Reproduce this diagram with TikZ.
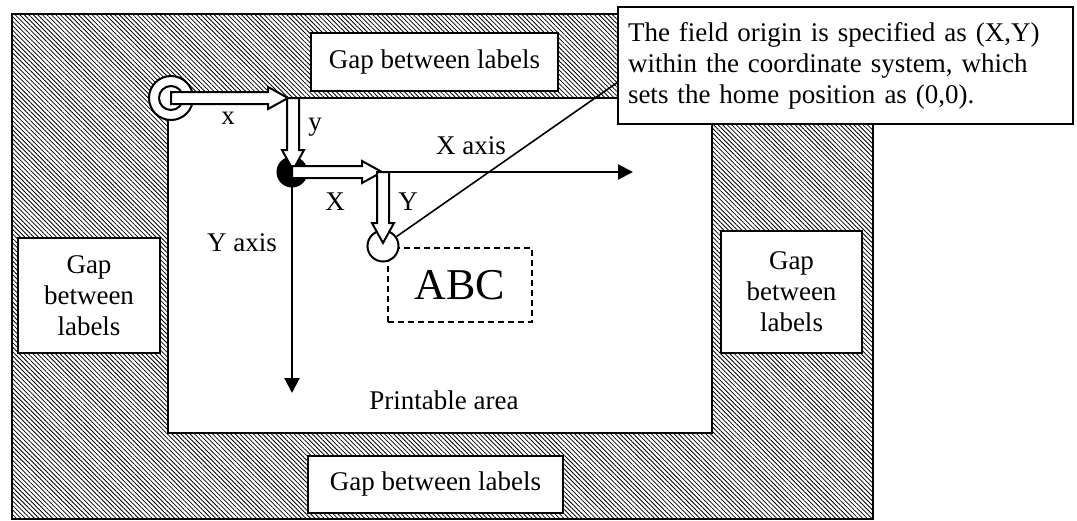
\documentclass[tikz,border=0pt]{standalone}
\usepackage{fontspec}
\setmainfont{Liberation Serif}
\usetikzlibrary{arrows.meta,patterns.meta}

\tikzset{
  gapbox/.style={draw, fill=white, line width=1pt, align=center, inner sep=0pt},
  axisline/.style={line width=1pt, -{Triangle[width=7.5pt,length=7.5pt]}},
  pics/hollowarrow/.style={code={
    \draw[fill=white, line width=1pt] (0,-6) -- ({#1-20},-6) -- ({#1-20},-11) -- (#1,0)
      -- ({#1-20},11) -- ({#1-20},6) -- (0,6) -- cycle;}},
}

\begin{document}
\begin{tikzpicture}[x=0.5pt, y=-0.5pt, font=\fontsize{13.5}{15.5}\selectfont]
  \useasboundingbox (0,0) rectangle (1077,520);

  % Hatched margin
  \draw[line width=1pt, pattern={Lines[angle=-45,distance=1.6pt,line width=0.4pt]}] (12,14) rectangle (873,519);

  % Printable area
  \draw[line width=1pt, fill=white] (168,98) rectangle (712,433);
  \node (printable) at (444,400) {Printable area};

  % Gaps between labels
  \node[gapbox, minimum width=123.5pt, minimum height=29pt] (gaptop) at (434.5,62) {Gap between labels};
  \node[gapbox, minimum width=127.5pt, minimum height=28.5pt] (gapbottom) at (435.5,484.5) {Gap between labels};
  \node[gapbox, minimum width=71pt, minimum height=57.5pt] (gapleft) at (89,295.5) {Gap\\between\\labels};
  \node[gapbox, minimum width=70.5pt, minimum height=61pt] (gapright) at (791.5,292) {Gap\\between\\labels};

  % Field contents
  \node[draw, dash pattern=on 3pt off 2pt, line width=1pt, minimum width=72pt, minimum height=37pt,
        font=\fontsize{22}{26}\selectfont] (abc) at (460,285) {ABC};

  % Axes
  \node[circle, fill=black, minimum size=15.5pt, inner sep=0pt] (home) at (292,172) {};
  \coordinate (xend) at (633,172);
  \coordinate (yend) at (292,393);
  \draw[axisline] (home.center) -- (xend);
  \draw[axisline] (home.center) -- (yend);

  % Origins
  \node[circle, draw, fill=white, line width=1pt, minimum size=22pt, inner sep=0pt] (origin) at (171,98) {};
  \draw[line width=1pt] (origin.center) circle[radius=6pt];
  \node[circle, draw, fill=white, line width=1pt, minimum size=15.5pt, inner sep=0pt] (field) at (383,246) {};
  \coordinate (corner) at (293,98);
  \coordinate (fieldtop) at (383,172);

  % Offsets
  \pic at (origin.center) {hollowarrow=117};
  \pic[rotate=-90] at (corner) {hollowarrow=72};
  \pic at (home.center) {hollowarrow=90};
  \pic[rotate=-90] at (fieldtop) {hollowarrow=71};

  % Callout
  \node[draw, fill=white, line width=1pt, text width=217.5pt, inner xsep=5pt, minimum height=58.5pt,
        align=left] (note) at (845.5,65.5)
        {The field origin is specified as (X,Y)\\within the coordinate system, which\\sets the home position as (0,0).};
  \coordinate (notept) at (618,82);
  \draw[line width=0.8pt] (field) -- (notept);

  % Labels
  \node (lblx) at (228,118) {x};
  \node (lbly) at (315,127) {y};
  \node (lblX) at (335,202) {X};
  \node (lblY) at (408,202) {Y};
  \node (xaxis) at (471,146) {X axis};
  \node (yaxis) at (242,243) {Y axis};
\end{tikzpicture}
\end{document}
